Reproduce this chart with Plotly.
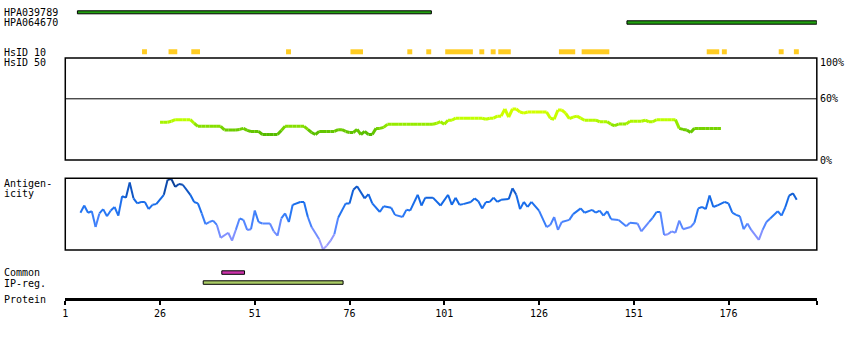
import plotly.graph_objects as go

W, H = 850, 340

# ---------------- data ----------------
tick_vals = [1, 26, 51, 76, 101, 126, 151, 176]
protein_end = 199.3

hpa_names = ["HPA039789", "HPA064670"]
hpa_start = [4.2, 149.2]
hpa_end = [97.6, 199.3]

hsid10_start = [21, 28, 34, 59, 76, 91, 96, 101, 110, 113, 115, 131, 137, 170, 174, 189, 193]
hsid10_end = [21, 29, 35, 59, 78, 91, 96, 107, 110, 113, 117, 134, 143, 172, 174, 189, 193]

common_start = [42.3]
common_end = [48.3]
ipreg_start = [37.4]
ipreg_end = [74.3]

# HsID 50 similarity (%) per residue, residues 26..174
sim_pos = list(range(26, 175))
sim_val = [
    37, 37, 37, 38, 39.5, 39.5, 39.5, 39.5, 39.5, 36,            # 26-35
    33, 33, 33, 33, 33, 33, 33, 29.5, 29.5, 29.5,                # 36-45
    29.5, 30, 31, 29, 28, 28, 28, 25, 25, 25,                    # 46-55
    25, 25, 29, 33, 33, 33, 33, 33, 33, 30,                      # 56-65
    27, 25, 28, 28, 28, 28, 28, 29.7, 29.7, 28,                  # 66-75
    27, 27, 30, 25, 28, 25, 25, 31, 31, 32,                      # 76-85
    35, 35, 35, 35, 35, 35, 35, 35, 35, 35,                      # 86-95
    35, 35, 35, 36, 37.6, 35, 39, 39, 41, 41,                    # 96-105
    41, 41, 41, 41, 41, 41, 40, 41, 41, 43,                      # 106-115
    43, 50, 42, 50, 50, 47, 46, 47, 47, 47,                      # 116-125
    47, 47, 47, 41, 40, 49, 49, 46, 40.5, 42,                    # 126-135
    43, 41, 39, 39, 39, 39, 37.5, 37.5, 37.5, 35,                # 136-145
    33.6, 35.3, 35.3, 35.3, 37.9, 37.9, 37.9, 38, 39, 37.5,      # 146-155
    37.5, 39.5, 39.5, 39.5, 39.5, 39.5, 39.5, 31, 30, 29.5,      # 156-165
    27, 31, 31, 31, 31, 31, 31, 31, 31,                          # 166-174
]

# Antigenicity (relative score 0..1)
ag_pos = [
    5, 6, 7, 8, 9, 10, 11, 12, 13, 14, 15, 16, 17, 18, 19, 20, 21, 22, 23, 24,
    25, 27, 28, 29, 30, 31, 32, 34, 35, 36, 37, 38, 39, 40, 41, 42, 44, 45, 46, 47,
    48, 49, 50, 51, 52, 53, 55, 56, 57, 58, 59, 60, 61, 63, 64, 65, 66, 68, 69, 70,
    71, 72, 73, 75, 76, 77, 78, 80, 81, 82, 84, 85, 87, 88, 90, 91, 92, 94, 95, 96,
    98, 100, 102, 103, 104, 105, 106, 108, 109, 110, 111, 112, 113, 114, 115, 116, 118, 119, 120, 121,
    122, 123, 124, 126, 128, 129, 130, 131, 132, 134, 135, 137, 138, 140, 141, 142, 143, 144, 145, 147,
    149, 150, 152, 153, 155, 156, 157, 158, 159, 160, 161, 162, 163, 164, 166, 167, 168, 169, 170, 171,
    172, 173, 175, 176, 177, 178, 179, 180, 181, 182, 184, 185, 186, 187, 189, 190, 191, 192, 193, 194,
]
ag_val = [
    0.52, 0.62, 0.52, 0.54, 0.32, 0.51, 0.57, 0.47, 0.55, 0.60, 0.48, 0.75, 0.73, 0.94, 0.72, 0.65, 0.67, 0.67, 0.57, 0.63,
    0.64, 0.77, 0.98, 0.99, 0.88, 0.92, 0.91, 0.77, 0.67, 0.65, 0.51, 0.36, 0.39, 0.41, 0.35, 0.17, 0.24, 0.13, 0.28, 0.44,
    0.42, 0.28, 0.29, 0.55, 0.39, 0.37, 0.37, 0.26, 0.20, 0.44, 0.51, 0.39, 0.63, 0.67, 0.67, 0.46, 0.32, 0.15, 0.01, 0.06,
    0.13, 0.22, 0.45, 0.65, 0.65, 0.84, 0.89, 0.72, 0.78, 0.65, 0.53, 0.61, 0.59, 0.49, 0.46, 0.56, 0.55, 0.77, 0.62, 0.73,
    0.73, 0.62, 0.77, 0.63, 0.73, 0.63, 0.64, 0.67, 0.72, 0.68, 0.58, 0.67, 0.67, 0.73, 0.67, 0.70, 0.71, 0.86, 0.77, 0.57,
    0.67, 0.60, 0.67, 0.55, 0.32, 0.35, 0.46, 0.28, 0.39, 0.42, 0.50, 0.58, 0.52, 0.56, 0.52, 0.55, 0.48, 0.54, 0.43, 0.42,
    0.33, 0.38, 0.37, 0.26, 0.39, 0.45, 0.53, 0.53, 0.21, 0.22, 0.26, 0.24, 0.41, 0.29, 0.32, 0.38, 0.58, 0.60, 0.57, 0.76,
    0.60, 0.62, 0.67, 0.65, 0.52, 0.49, 0.47, 0.29, 0.37, 0.28, 0.14, 0.28, 0.39, 0.44, 0.54, 0.48, 0.60, 0.76, 0.79, 0.70,
]

# ---------------- styling helpers ----------------
FONT = dict(family="DejaVu Sans Mono", size=10, color="black")


def py(y):
    return 1 - y / H


def lerp_color(v, stops):
    if v <= stops[0][0]:
        c = stops[0][1]
    elif v >= stops[-1][0]:
        c = stops[-1][1]
    else:
        for (a, ca), (b, cb) in zip(stops[:-1], stops[1:]):
            if a <= v <= b:
                t = (v - a) / (b - a)
                c = tuple(ca[k] + (cb[k] - ca[k]) * t for k in range(3))
                break
    return "rgb(%d,%d,%d)" % tuple(int(round(x)) for x in c)


SIM_STOPS = [(25, (85, 187, 0)), (30, (110, 205, 0)), (35, (150, 235, 0)),
             (40, (190, 255, 0)), (47, (210, 255, 0))]
AG_STOPS = [(0.0, (175, 165, 255)), (0.2, (130, 145, 255)), (0.35, (85, 135, 255)),
            (0.5, (40, 120, 245)), (0.7, (20, 105, 230)), (0.85, (15, 85, 195)),
            (1.0, (10, 55, 130))]


def segment_traces(xs, ys, stops, step, yaxis, width):
    groups = {}
    for i in range(len(xs) - 1):
        m = (ys[i] + ys[i + 1]) / 2
        q = round(m / step) * step
        c = lerp_color(q, stops)
        gx, gy = groups.setdefault(c, ([], []))
        gx.extend([xs[i], xs[i + 1], None])
        gy.extend([ys[i], ys[i + 1], None])
    out = []
    for c, (gx, gy) in groups.items():
        out.append(go.Scatter(x=gx, y=gy, mode="lines", xaxis="x", yaxis=yaxis,
                              line=dict(color=c, width=width), hoverinfo="skip",
                              showlegend=False))
    return out


fig = go.Figure()
for tr in segment_traces(sim_pos, sim_val, SIM_STOPS, 1.0, "y", 3):
    fig.add_trace(tr)
for tr in segment_traces(ag_pos, ag_val, AG_STOPS, 0.05, "y2", 2):
    fig.add_trace(tr)

shapes = []
# panel frames
shapes.append(dict(type="rect", xref="x domain", yref="y domain", x0=0, x1=1, y0=0, y1=1,
                   line=dict(color="black", width=1.5), fillcolor="rgba(0,0,0,0)", layer="above"))
shapes.append(dict(type="line", xref="x domain", yref="y", x0=0, x1=1, y0=60, y1=60,
                   line=dict(color="black", width=1)))
shapes.append(dict(type="rect", xref="x domain", yref="y2 domain", x0=0, x1=1, y0=0, y1=1,
                   line=dict(color="black", width=1.5), fillcolor="rgba(0,0,0,0)", layer="above"))

# antibody bars
hpa_rows = [(10.8, 13.8), (20.8, 24.2)]
for (s, e), (ya, yb) in zip(zip(hpa_start, hpa_end), hpa_rows):
    shapes.append(dict(type="rect", xref="x", yref="paper", x0=s, x1=e, y0=py(yb), y1=py(ya),
                       line=dict(color="black", width=1), fillcolor="#22a010"))

# HsID 10 blocks
for s, e in zip(hsid10_start, hsid10_end):
    shapes.append(dict(type="rect", xref="x", yref="paper", x0=s + 0.25, x1=e + 1.55,
                       y0=py(54.3), y1=py(49.3), line=dict(width=0), fillcolor="#ffcc22"))

# Common / IP-reg bars
for s, e in zip(common_start, common_end):
    shapes.append(dict(type="rect", xref="x", yref="paper", x0=s, x1=e, y0=py(274.3), y1=py(270.8),
                       line=dict(color="black", width=1), fillcolor="#cc33aa"))
for s, e in zip(ipreg_start, ipreg_end):
    shapes.append(dict(type="rect", xref="x", yref="paper", x0=s, x1=e, y0=py(284.3), y1=py(280.8),
                       line=dict(color="black", width=1), fillcolor="#aacc66"))

annotations = []
left_labels = [("HPA039789", 12.7), ("HPA064670", 22.7), ("HsID 10", 52.7), ("HsID 50", 62.7),
               ("Antigen-", 183.3), ("icity", 193.3), ("Common", 272.7), ("IP-reg.", 283.0),
               ("Protein", 299.3)]
for txt, y in left_labels:
    annotations.append(dict(text=txt, xref="paper", yref="paper", x=0, y=py(y), xshift=-1,
                            xanchor="left", yanchor="middle", showarrow=False, font=FONT))
for txt, v, ys in [("100%", 100, -4), ("60%", 60, 0), ("0%", 0, 0)]:
    annotations.append(dict(text=txt, xref="paper", yref="y", x=817.5 / W, y=v, yshift=ys,
                            xanchor="left", yanchor="middle", showarrow=False, font=FONT))

fig.update_layout(
    width=W, height=H, margin=dict(l=0, r=0, t=0, b=0),
    paper_bgcolor="white", plot_bgcolor="rgba(0,0,0,0)", showlegend=False,
    xaxis=dict(domain=[62.5 / W, 816.7 / W], range=[1, protein_end], anchor="free",
               position=py(299.3), showline=True, linewidth=3, linecolor="black",
               ticks="outside", ticklen=4, tickwidth=2, tickcolor="black",
               tickvals=tick_vals + [protein_end],
               ticktext=[str(v) for v in tick_vals] + [""],
               tickfont=FONT, showgrid=False, zeroline=False, fixedrange=True),
    yaxis=dict(domain=[py(160), py(58)], range=[0, 100], visible=False, anchor="x",
               fixedrange=True),
    yaxis2=dict(domain=[py(250), py(178.3)], range=[0, 1], visible=False, anchor="x",
                fixedrange=True),
    shapes=shapes, annotations=annotations,
)

fig.write_html("out.html")
